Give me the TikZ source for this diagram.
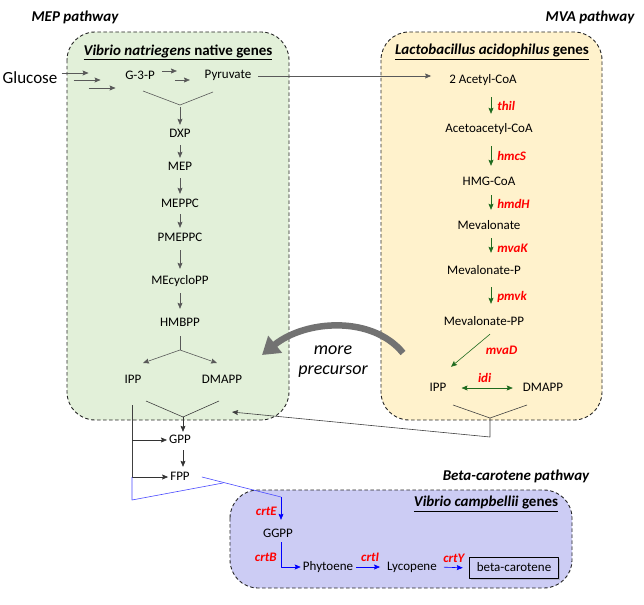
\documentclass[tikz,border=0pt]{standalone}
\usepackage{fontspec}
\setmainfont{Carlito}
\usetikzlibrary{arrows.meta,shadows}
\definecolor{mepfill}{HTML}{E2F0D9}
\definecolor{mvafill}{HTML}{FFF2CC}
\definecolor{crtfill}{HTML}{CCCCF4}
\definecolor{arrgray}{HTML}{595959}
\definecolor{arrgreen}{HTML}{1F6B1F}
\definecolor{crtblue}{HTML}{0000FF}
\definecolor{lineblue}{HTML}{4A4AFF}
\begin{document}
\begin{tikzpicture}[x=1pt,y=-1pt,>={Stealth[length=6pt,width=5pt,inset=1pt]}, font=\fontsize{13}{15}\selectfont, line join=round,
	box/.style={draw=black!85, dash pattern=on 3.5pt off 2.5pt, line width=0.9pt, rounded corners=28pt},
	met/.style={inner sep=2pt, text height=9pt, text depth=3pt},
	enz/.style={text=red, font=\fontsize{13}{15}\selectfont\bfseries\itshape, inner sep=1pt},
	hdr/.style={font=\fontsize{15}{17}\selectfont\bfseries\itshape},
	ttl/.style={font=\fontsize{15}{17}\selectfont\bfseries},
	gline/.style={arrgray, line width=0.6pt},
	garr/.style={->, arrgray, line width=0.6pt, shorten <=2pt, shorten >=2pt},
	varr/.style={->, arrgreen, line width=0.6pt, shorten <=8pt, shorten >=8pt},
	karr/.style={->, black!80, line width=0.6pt},
	barr/.style={->, crtblue, line width=0.6pt}]
	\useasboundingbox (0,0) rectangle (644,604);
	% boxes
	\draw[box, fill=mepfill] (67,32) rectangle (289,420);
	\draw[box, fill=mvafill] (381,32) rectangle (602,420);
	\draw[box, fill=crtfill] (230,490) rectangle (572,588);
	\node[hdr] (hmep) at (75,17) {MEP pathway};
	\node[hdr] (hmva) at (590,17) {MVA pathway};
	\node[hdr] (hcrt) at (516,476) {Beta-carotene pathway};
	\node[ttl] (tmep) at (178,52) {\underline{\textit{Vibrio natriegens} native genes}};
	\node[ttl] (tmva) at (492,52) {\underline{\textit{Lactobacillus acidophilus} genes}};
	\node[ttl] (tcrt) at (486,504) {\underline{\textit{Vibrio campbellii} genes}};
	% MEP pathway
	\node[met, font=\fontsize{17}{19}\selectfont] (gluc) at (30,81) {Glucose};
	\node[met] (g3p) at (140,77) {G-3-P};
	\node[met] (pyr) at (228,76) {Pyruvate};
	\node[met] (dxp) at (180,135) {DXP};
	\node[met] (mep) at (180,168) {MEP};
	\node[met] (meppc) at (180,204) {MEPPC};
	\node[met] (pmeppc) at (180,238) {PMEPPC};
	\node[met] (mecpp) at (180,281) {MEcycloPP};
	\node[met] (hmbpp) at (180,323) {HMBPP};
	\node[met] (ipp) at (133,380) {IPP};
	\node[met] (dmapp) at (222,380) {DMAPP};
	\foreach \dx/\dy in {2/8, 14/1, 29/-7}
		\draw[->, gline] ([xshift=\dx pt, yshift=\dy pt]gluc.east) -- ++(27,0);
	\draw[->, gline] ([xshift=5pt, yshift=6pt]g3p.east) -- ++(15,0);
	\draw[->, gline] ([xshift=18pt, yshift=-3pt]g3p.east) -- ++(15,0);
	\coordinate (mepv) at (180,105);
	\draw[gline] (143,91) -- (mepv) -- (213,92);
	\draw[garr] (mepv) -- (dxp);
	\draw[garr] (dxp) -- (mep);
	\draw[garr] (mep) -- (meppc);
	\draw[garr] (meppc) -- (pmeppc);
	\draw[garr, shorten <=4pt, shorten >=4pt] (pmeppc) -- (mecpp);
	\draw[garr, shorten <=4pt, shorten >=6pt] (mecpp) -- (hmbpp);
	\coordinate (hsplit) at (180,350);
	\coordinate (ippin) at (143,363);
	\coordinate (dmappin) at (217,363);
	\draw[gline, shorten <=5pt] (hmbpp) -- (hsplit);
	\draw[->, gline] (hsplit) -- (ippin);
	\draw[->, gline] (hsplit) -- (dmappin);
	% MVA pathway
	\node[met] (acoa) at (483,81) {2 Acetyl-CoA};
	\node[met] (aacoa) at (489,130) {Acetoacetyl-CoA};
	\node[met] (hmg) at (489,182) {HMG-CoA};
	\node[met] (mev) at (489,226) {Mevalonate};
	\node[met] (mevp) at (484,271) {Mevalonate-P};
	\node[met] (mevpp) at (484,322) {Mevalonate-PP};
	\node[met] (ippb) at (438,388) {IPP};
	\node[met] (dmappb) at (543,388) {DMAPP};
	\draw[garr, shorten <=5pt, shorten >=16pt] (pyr.east) -- (pyr.east -| acoa.west);
	\draw[varr] (acoa.south -| 491,0) -- (aacoa.north -| 491,0) node[midway, right=5pt, enz] {thil};
	\draw[varr] (aacoa.south -| 491,0) -- (hmg.north -| 491,0) node[midway, right=5pt, enz] {hmcS};
	\draw[varr, shorten <=5pt] (hmg.south -| 491,0) -- (mev.north -| 491,0) node[midway, right=5pt, enz] {hmdH};
	\draw[varr, shorten <=4pt, shorten >=10pt] (mev.south -| 491,0) -- (mevp.north -| 491,0) node[midway, right=5pt, enz] {mvaK};
	\draw[varr, shorten >=10pt] (mevp.south -| 491,0) -- (mevpp.north -| 491,0) node[midway, right=5pt, enz] {pmvk};
	\draw[->, arrgreen, line width=0.6pt] ([xshift=6pt, yshift=-4pt]mevpp.south) -- ([xshift=13pt, yshift=13pt]ippb.north) node[midway, right=14pt, enz] {mvaD};
	\draw[<->, arrgreen, line width=0.6pt, shorten <=13pt, shorten >=8pt] (ippb) -- (dmappb) node[midway, above=4pt, enz] {idi};
	\coordinate (mvam) at (490,418);
	\coordinate (mvad) at (490,437);
	\coordinate (mept) at (232,412);
	\draw[black!75, line width=0.6pt] (453,405) -- (mvam) -- (527,405);
	\draw[karr, black!75] (mvam) -- (mvad) -- (mept);
	% more precursor
	\draw[arrgray!85, line width=6.5pt, -{Triangle[length=17pt, width=21pt]}] (403,353) .. controls (372,315) and (305,320) .. (262,355);
	\node[font=\fontsize{18}{20}\selectfont\itshape, align=center] (more) at (333,362) {more\\precursor};
	% GPP, FPP
	\node[met] (gpp) at (180,440) {GPP};
	\node[met] (fpp) at (180,477) {FPP};
	\coordinate (mepm) at (183,417);
	\draw[black!75, line width=0.6pt] (146,401) -- (mepm) -- (219,401);
	\draw[karr] (mepm) -- (mepm |- gpp.north);
	\draw[karr, shorten <=2pt, shorten >=2pt] (gpp.south -| mepm) -- (fpp.north -| mepm);
	\coordinate (iline) at (132,405);
	\coordinate (bline) at (132,477);
	\coordinate (fbot) at (132,500);
	\coordinate (fjoin) at (223,483);
	\coordinate (fcorner) at (281,497);
	\draw[black!75, line width=0.6pt] (iline) -- (bline);
	\draw[karr] (gpp.west -| iline) -- (gpp.west);
	\draw[karr] (fpp.west -| iline) -- (fpp.west);
	\draw[lineblue, line width=0.6pt] (bline) -- (fbot) -- (fjoin);
	\draw[lineblue, line width=0.6pt] ([xshift=10pt]fpp.east) -- (fcorner);
	% Beta-carotene pathway
	\node[met] (ggpp) at (278,534) {GGPP};
	\node[met] (phy) at (328,567) {Phytoene};
	\node[met] (lyc) at (412,567) {Lycopene};
	\node[met, draw=black, line width=1.5pt, minimum width=89pt, minimum height=21pt, drop shadow={shadow xshift=1.5pt, shadow yshift=-1.5pt, opacity=0.35}, fill=crtfill] (beta) at (514,568) {beta-carotene};
	\draw[barr, shorten >=6pt] (fcorner) -- (fcorner |- ggpp.north) node[midway, left=3pt, enz] {crtE};
	\draw[barr] ([xshift=3pt]ggpp.south) |- (phy.west) node[pos=0.3, left=3pt, enz] {crtB};
	\draw[barr, shorten <=1pt, shorten >=5pt] (phy.east) -- (lyc.west) node[midway, above=4pt, enz] {crtI};
	\draw[barr, shorten <=5pt, shorten >=6pt] (lyc.east) -- (beta.west) node[midway, above=4pt, enz] {crtY};
\end{tikzpicture}
\end{document}
